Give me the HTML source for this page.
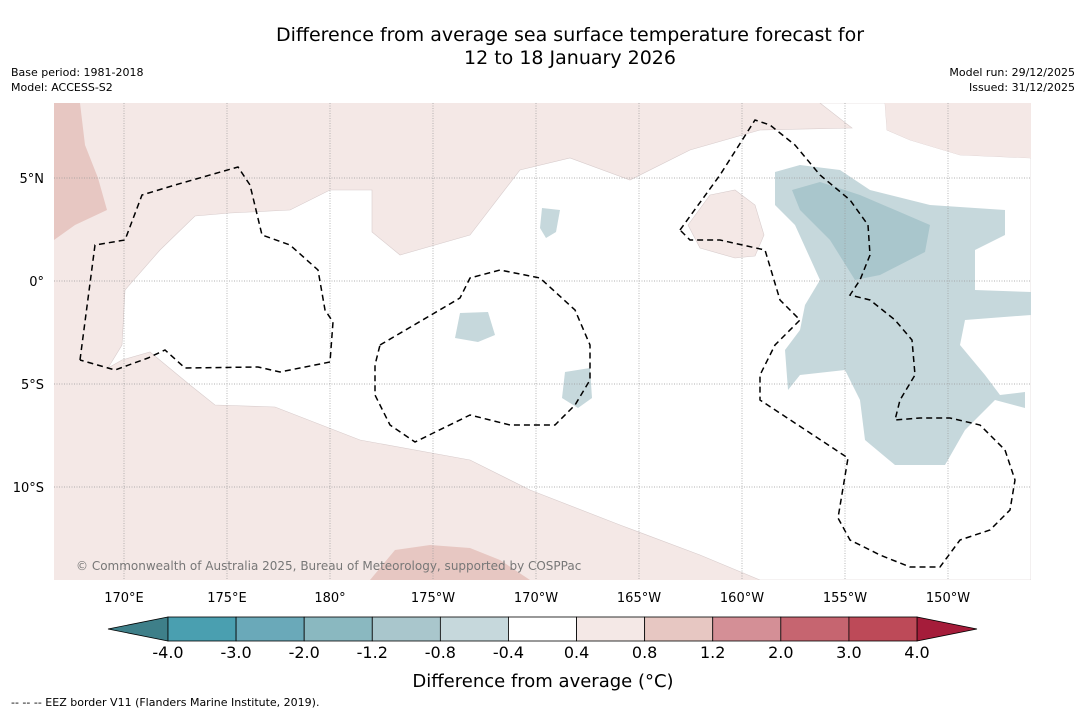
<!DOCTYPE html>
<html><head><meta charset="utf-8"><style>
body{margin:0;background:#fff;width:1085px;height:713px;overflow:hidden;font-family:"Liberation Sans","DejaVu Sans",sans-serif}
svg{display:block}
</style></head><body>
<svg width="1085" height="713" font-family="DejaVu Sans, Liberation Sans, sans-serif">
<text x="570" y="41" text-anchor="middle" font-size="19">Difference from average sea surface temperature forecast for</text>
<text x="570" y="64" text-anchor="middle" font-size="19">12 to 18 January 2026</text>
<text x="11" y="76" font-size="11">Base period: 1981-2018</text>
<text x="11" y="91" font-size="11">Model: ACCESS-S2</text>
<text x="1075" y="76" font-size="11" text-anchor="end">Model run: 29/12/2025</text>
<text x="1075" y="91" font-size="11" text-anchor="end">Issued: 31/12/2025</text>

<g>
<clipPath id="mc"><rect x="54" y="103" width="977" height="477"/></clipPath>
<g clip-path="url(#mc)">
<rect x="54" y="103" width="977" height="477" fill="#f4e8e6"/>
<polygon fill="#fff" stroke="#d8cccc" stroke-width="0.6" points="820,103 852,128 760,130 690,150 630,180 570,158 520,170 470,235 400,255 372,232 372,190 330,190 290,210 230,213 195,216 160,250 125,290 122,345 108,368 122,360 150,352 190,385 215,405 275,407 360,440 470,460 530,490 620,525 700,555 760,580 1031,580 1031,158 960,155 910,140 887,130 885,103"/>
<polygon fill="#f4e8e6" points="885,103 887,130 910,140 960,155 1031,158 1031,130 1005,103"/>
<polygon fill="#f4e8e6" stroke="#d8cccc" stroke-width="0.6" points="688,225 710,195 735,190 755,205 764,235 755,256 735,258 700,248"/>
<polygon fill="#e7c7c2" points="54,103 80,103 85,145 98,178 107,210 75,225 54,240"/>
<polygon fill="#e7c7c2" points="370,580 395,550 430,545 470,548 500,560 530,580"/>
<polygon fill="#c6d8dc" points="775,172 800,165 840,170 870,190 930,205 1005,210 1005,235 975,250 975,290 1031,292 1031,315 965,320 960,345 985,375 1000,395 1025,392 1025,408 995,400 965,430 945,465 895,465 865,440 860,400 845,370 800,375 788,390 785,350 800,330 805,305 820,280 795,225 775,205"/>
<polygon fill="#a9c6cc" points="792,190 820,182 860,195 930,225 925,252 880,275 855,280 830,240 800,210"/>
<polygon fill="#c6d8dc" points="460,313 488,312 495,335 478,342 455,338"/>
<polygon fill="#c6d8dc" points="542,208 560,210 556,232 546,238 540,228"/>
<polygon fill="#c6d8dc" points="565,372 590,368 592,398 578,408 562,398"/>
</g>
<g id="grid" stroke="#999" stroke-width="0.7" stroke-dasharray="1,1.5"></g>
<g fill="none" stroke="#000" stroke-width="1.5" stroke-dasharray="6,4">
<polyline points="80,360 95,245 125,240 142,195 175,185 238,167 250,185 262,235 290,245 318,270 325,310 333,322 330,362 280,372 258,367 185,368 165,350 148,358 115,370 80,360"/>
<polyline points="380,345 460,298 470,278 500,270 540,278 575,310 590,345 590,380 575,405 555,425 510,425 470,415 415,442 390,425 375,395 375,365 380,345"/>
<polyline points="680,230 720,175 755,120 770,125 795,145 820,175 850,200 868,225 870,255 860,280 850,295 870,300 895,320 912,340 915,375 900,400 895,420 920,418 950,418 980,425 1005,450 1015,480 1010,510 990,530 960,540 940,567 910,567 880,555 850,540 838,518 848,458 760,400 760,375 775,345 800,320 780,300 765,250 720,240 690,240 680,230"/>
</g>
<text x="76" y="570" font-size="12" fill="#777">© Commonwealth of Australia 2025, Bureau of Meteorology, supported by COSPPac</text>
</g>
<g id="axes" font-size="13"></g>
<g id="cbar"></g>
<text x="543" y="687" text-anchor="middle" font-size="18">Difference from average (°C)</text>
<text x="11" y="706" font-size="11">--  --  -- EEZ border V11 (Flanders Marine Institute, 2019).</text>
</svg>
<script>
const lonLabels=["170°E","175°E","180°","175°W","170°W","165°W","160°W","155°W","150°W"];
const lonValues=[170,175,180,185,190,195,200,205,210];
const latLabels=["5°N","0°","5°S","10°S"];
const latValues=[5,0,-5,-10];
const cbarLabels=["-4.0","-3.0","-2.0","-1.2","-0.8","-0.4","0.4","0.8","1.2","2.0","3.0","4.0"];
const cbarColors=["#4a9fb0","#6aa9b9","#8ab8c0","#a9c6cc","#c6d8dc","#ffffff","#f4e8e6","#e7c7c2","#d48f96","#c66570","#bd4a58"];
const NS="http://www.w3.org/2000/svg";
const xLon=l=>124+(l-170)*20.6;
const yLat=l=>281-l*20.6;
function mk(t,a,p){const e=document.createElementNS(NS,t);for(const k in a)e.setAttribute(k,a[k]);p.appendChild(e);return e;}
const grid=document.getElementById('grid'),axes=document.getElementById('axes'),cb=document.getElementById('cbar');
lonValues.forEach((v,i)=>{const x=xLon(v);
 const l=mk('line',{x1:x,x2:x,y1:103,y2:580},grid);
 
 
 const t=mk('text',{x:x,y:602,'text-anchor':'middle'},axes);t.textContent=lonLabels[i];
 
 });
latValues.forEach((v,i)=>{const y=yLat(v);
 const l=mk('line',{x1:54,x2:1031,y1:y,y2:y},grid);
 
 
 const t=mk('text',{x:44,y:y+5,'text-anchor':'end'},axes);t.textContent=latLabels[i];
 
 });
const x0=168,w=(917-168)/cbarColors.length,y0=617,h=24;
const lt=mk('polygon',{points:`108,${y0+h/2} ${x0},${y0} ${x0},${y0+h}`,fill:'#3e7f89',stroke:'#000','stroke-width':0.8},cb);


const rt=mk('polygon',{points:`977,${y0+h/2} 917,${y0} 917,${y0+h}`,fill:'#a51c3a',stroke:'#000','stroke-width':0.8},cb);


cbarColors.forEach((c,i)=>{const r=mk('rect',{x:x0+i*w,y:y0,width:w,height:h,fill:c,stroke:'#000','stroke-width':0.8},cb);
 
 });
cbarLabels.forEach((s,i)=>{const t=mk('text',{x:x0+i*w,y:658,'text-anchor':'middle','font-size':16},cb);t.textContent=s;
 
 });
</script>
</body></html>
